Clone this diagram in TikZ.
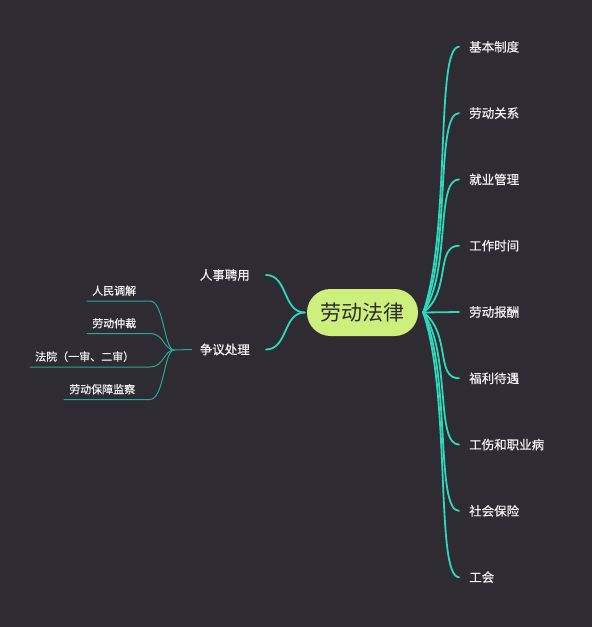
\documentclass[tikz,border=0pt]{standalone}
\usepackage{fontspec}
\newfontfamily\cjk{Noto Sans CJK SC}
\newfontfamily\cjklabel{Noto Sans CJK SC}[FakeBold=0.6]
\definecolor{mapbg}{HTML}{2E2B33}
\definecolor{rootgreen}{HTML}{CDF07C}
\definecolor{branchteal}{HTML}{2ED8BD}
\definecolor{subteal}{HTML}{28A898}
\definecolor{labelwhite}{HTML}{F2F2F2}
\usetikzlibrary{positioning,calc}

\begin{document}
\begin{tikzpicture}[x=1pt,y=-1pt,font=\cjk]
        \tikzset{
            lawroot/.style={
                fill=rootgreen,
                text=mapbg,
                rounded corners=23.5pt,
                minimum width=111pt,
                minimum height=47pt,
                inner sep=0pt,
                font=\cjk\fontsize{21pt}{25pt}\selectfont
            },
            topiclabel/.style={
                text=labelwhite,
                inner sep=0pt,
                font=\cjklabel\fontsize{12.5pt}{15pt}\selectfont
            },
            subleaf/.style={
                text=labelwhite,
                anchor=south west,
                inner xsep=5pt,
                inner ysep=5pt,
                font=\cjklabel\fontsize{11pt}{13pt}\selectfont
            },
            mainbranch/.style={
                draw=branchteal,
                line width=1.8pt,
                line cap=round
            },
            rightcurve/.style={
                to path={
                    .. controls ($(\tikztostart)!0.31!(\tikztotarget)+(17,0)$)
                    and ($(\tikztotarget)+(-24,0)$) .. (\tikztotarget)
                }
            },
            subbranch/.style={
                draw=subteal,
                line width=1pt,
                line cap=round
            }
        }

        % background
        \fill[mapbg] (0,0) rectangle (592,627);

        \node[lawroot] (law) at (362.5,312.5) {劳动法律};
        \coordinate (rroot) at ([xshift=5pt]law.east);
        \coordinate (lroot) at ([xshift=-2pt]law.west);

        % right side topics
        \node[topiclabel,anchor=west] (jbzd) at (469,46.8) {基本制度};
        \node[topiclabel,anchor=west] (ldgx) at (469,113.1) {劳动关系};
        \node[topiclabel,anchor=west] (jygl) at (469,179.4) {就业管理};
        \node[topiclabel,anchor=west] (gzsj) at (469,245.7) {工作时间};
        \node[topiclabel,anchor=west] (ldbc) at (469,312) {劳动报酬};
        \node[topiclabel,anchor=west] (flyd) at (469,378.3) {福利待遇};
        \node[topiclabel,anchor=west] (gszy) at (469,444.6) {工伤和职业病};
        \node[topiclabel,anchor=west] (shbx) at (469,510.9) {社会保险};
        \node[topiclabel,anchor=west] (gonghui) at (469,577.2) {工会};

        \draw[mainbranch,rightcurve] (rroot) to ([xshift=-10pt]jbzd.west);
        \draw[mainbranch,rightcurve] (rroot) to ([xshift=-10pt]ldgx.west);
        \draw[mainbranch,rightcurve] (rroot) to ([xshift=-10pt]jygl.west);
        \draw[mainbranch,rightcurve] (rroot) to ([xshift=-10pt]gzsj.west);
        \draw[mainbranch] (rroot) -- ([xshift=-10pt]ldbc.west);
        \draw[mainbranch,rightcurve] (rroot) to ([xshift=-10pt]flyd.west);
        \draw[mainbranch,rightcurve] (rroot) to ([xshift=-10pt]gszy.west);
        \draw[mainbranch,rightcurve] (rroot) to ([xshift=-10pt]shbx.west);
        \draw[mainbranch,rightcurve] (rroot) to ([xshift=-10pt]gonghui.west);

        % left side topics
        \node[topiclabel,anchor=east] (rspy) at (250,275) {人事聘用};
        \node[topiclabel,anchor=east] (zycl) at (250,349.5) {争议处理};

        \draw[mainbranch] (lroot) .. controls +(-22,0) and +(22,0) .. ([xshift=16pt]rspy.east);
        \draw[mainbranch] (lroot) .. controls +(-22,0) and +(22,0) .. ([xshift=16pt]zycl.east);

        % dispute handling leaves
        \coordinate (zyjunc) at (174,350);
        \coordinate (subend) at (150,350);
        \draw[subbranch] ([xshift=-8pt]zycl.west) -- (zyjunc);

        \node[subleaf] (rmtj) at (87,301) {人民调解};
        \node[subleaf] (ldzc) at (87,333.5) {劳动仲裁};
        \node[subleaf] (fayuan) at (30,367) {法院（一审、二审）};
        \node[subleaf] (ldjc) at (64,399.5) {劳动保障监察};

        \draw[subbranch] (rmtj.south west) -- (rmtj.south west -| subend)
            .. controls +(14,0) and +(-10,0) .. (zyjunc);
        \draw[subbranch] (ldzc.south west) -- (ldzc.south west -| subend)
            .. controls +(14,0) and +(-10,0) .. (zyjunc);
        \draw[subbranch] (fayuan.south west) -- (fayuan.south west -| subend)
            .. controls +(14,0) and +(-10,0) .. (zyjunc);
        \draw[subbranch] (ldjc.south west) -- (ldjc.south west -| subend)
            .. controls +(14,0) and +(-10,0) .. (zyjunc);
\end{tikzpicture}
\end{document}
